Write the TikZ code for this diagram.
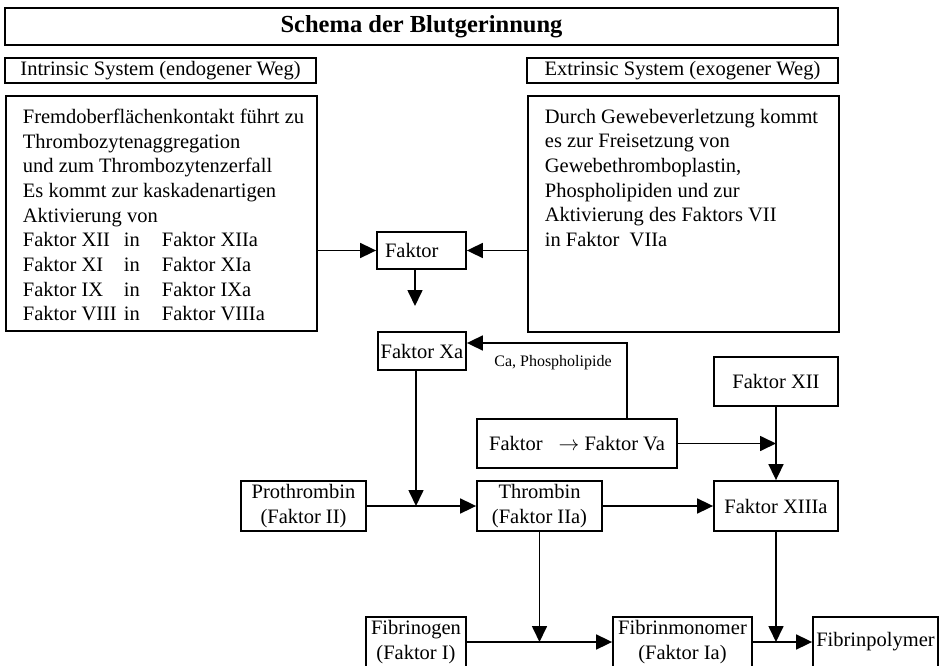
\documentclass[tikz,border=0pt]{standalone}
\usepackage{fontspec}
\setmainfont{Liberation Serif}
\usetikzlibrary{arrows.meta,positioning,calc}
\tikzset{box/.style={
            draw,
            line width=1.8pt,
            inner sep=0pt,
            align=center,
            font=\fontsize{20.5}{24.7}\selectfont
        },
        textbox/.style={
            box,
            anchor=north west,
            inner xsep=2pt,
            inner ysep=13pt
        },
        flow/.style={
            line width=1.7pt,
            -{Triangle[length=16pt,width=15pt]}
        }
    }
\newcommand{\conv}[2]{\makebox[101pt][l]{#1}\makebox[38pt][l]{in}#2}

\begin{document}
\begin{tikzpicture}[x=1pt,y=-1pt]
        \useasboundingbox (0,0) rectangle (940,666);
        \fill[white] (0,0) rectangle (940,666);

        % headings
        \node[box, minimum width=833pt, minimum height=37pt,
              font=\bfseries\fontsize{24.5}{28}\selectfont] at (421.5,26.5) (title) {Schema der Blutgerinnung};
        \node[box, minimum width=311pt, minimum height=25pt] at (160.5,70.5) (intr) {Intrinsic System (endogener Weg)};
        \node[box, minimum width=311pt, minimum height=25pt] at (682.5,70.5) (extr) {Extrinsic System (exogener Weg)};

        % the two pathways
        \node[textbox] at (5,95) (intrbox) {\hspace*{15pt}\parbox[t][209pt][t]{292pt}{%
            Fremdoberflächenkontakt führt zu\\
            Thrombozytenaggregation\\
            und zum Thrombozytenzerfall\\
            Es kommt zur kaskadenartigen\\
            Aktivierung von\\
            \conv{Faktor XII}{Faktor XIIa}\\
            \conv{Faktor XI}{Faktor XIa}\\
            \conv{Faktor IX}{Faktor IXa}\\
            \conv{Faktor VIII}{Faktor VIIIa}}};
        \node[textbox] at (527,95) (extrbox) {\hspace*{15pt}\parbox[t][210pt][t]{292pt}{%
            Durch Gewebeverletzung kommt\\
            es zur Freisetzung von\\
            Gewebethromboplastin,\\
            Phospholipiden und zur\\
            Aktivierung des Faktors VII\\
            in Faktor~ VIIa}};

        \node[box, minimum width=89pt, minimum height=37pt, text width=73pt, align=left] at (421.5,250.5) (faktor) {Faktor};
        \draw[flow] (intrbox.east |- faktor.west) -- (faktor.west);
        \draw[flow] (extrbox.west |- faktor.east) -- (faktor.east);
        \coordinate (fxtip) at (415,306);
        \draw[flow] (faktor.south -| fxtip) -- (fxtip);

        % middle part
        \node[box, minimum width=88pt, minimum height=38pt] at (422,351) (fxa) {Faktor Xa};
        \node[box, minimum width=200pt, minimum height=49pt] at (577,443.5) (fva) {Faktor\hspace{16pt}$\rightarrow$ Faktor Va};
        \coordinate (cabend) at (627,343);
        \draw[flow] (fva.north -| cabend) |- (fxa.east |- cabend);
        \node[font=\fontsize{16}{18}\selectfont, inner sep=0pt] at (553,363) (calabel) {Ca, Phospholipide};

        \node[box, minimum width=124pt, minimum height=49pt] at (776,381.5) (fxii) {Faktor XII};
        \node[box, minimum width=124pt, minimum height=50pt] at (776,506) (fxiii) {Faktor XIIIa};
        \coordinate (vajoin) at (fxii.south |- fva.east);
        \draw[flow] (fva.east) -- (vajoin);
        \draw[flow] (fxii.south) -- (fxiii.north);

        \node[box, minimum width=125pt, minimum height=50pt] at (303.5,506) (proth) {Prothrombin\\(Faktor II)};
        \node[box, minimum width=125pt, minimum height=50pt] at (539.5,506) (thromb) {Thrombin\\(Faktor IIa)};
        \coordinate (xajoin) at (416,506);
        \draw[flow] (proth.east) -- (thromb.west);
        \draw[flow] (fxa.south -| xajoin) -- (xajoin);
        \draw[flow] (thromb.east) -- (fxiii.west);

        % fibrin
        \node[box, minimum width=100pt, minimum height=50pt] at (416,642) (fgen) {Fibrinogen\\(Faktor I)};
        \node[box, minimum width=139pt, minimum height=50pt] at (682.5,642) (fmono) {Fibrinmonomer\\(Faktor Ia)};
        \node[box, minimum width=125pt, minimum height=50pt] at (875.5,642) (fpoly) {Fibrinpolymer};
        \coordinate (thjoin) at (thromb.south |- fgen.east);
        \coordinate (xiiijoin) at (fxiii.south |- fmono.east);
        \draw[flow] (thromb.south) -- (thjoin);
        \draw[flow] (fgen.east) -- (fmono.west);
        \draw[flow] (fxiii.south) -- (xiiijoin);
        \draw[flow] (fmono.east) -- (fpoly.west);

    \end{tikzpicture}
\end{document}
